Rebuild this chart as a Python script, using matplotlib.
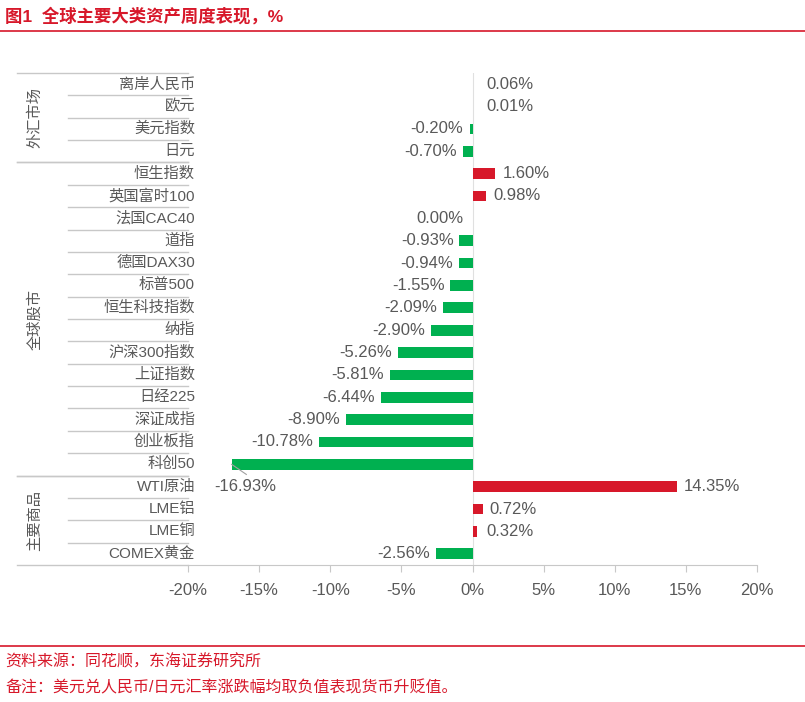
import matplotlib
matplotlib.use("Agg")
import matplotlib.pyplot as plt
from matplotlib.lines import Line2D

plt.rcParams['font.family'] = ['Liberation Sans', 'Noto Sans CJK SC', 'DejaVu Sans']

names = ["离岸人民币", "欧元", "美元指数", "日元", "恒生指数", "英国富时100", "法国CAC40", "道指",
         "德国DAX30", "标普500", "恒生科技指数", "纳指", "沪深300指数", "上证指数", "日经225",
         "深证成指", "创业板指", "科创50", "WTI原油", "LME铝", "LME铜", "COMEX黄金"]
values = [0.06, 0.01, -0.20, -0.70, 1.60, 0.98, 0.00, -0.93, -0.94, -1.55, -2.09, -2.90,
          -5.26, -5.81, -6.44, -8.90, -10.78, -16.93, 14.35, 0.72, 0.32, -2.56]
groups = [("外汇市场", 0, 4), ("全球股市", 4, 18), ("主要商品", 18, 22)]
xticks = [-20, -15, -10, -5, 0, 5, 10, 15, 20]

W, H = 805, 702
fig = plt.figure(figsize=(W/100, H/100), dpi=100)
RED = "#d7182a"; GREEN = "#00b050"; GRAY = "#595959"; LG = "#c8c8c8"

L, R, T, B = 188, 757, 73, 565
ax = fig.add_axes([L/W, 1-B/H, (R-L)/W, (B-T)/H])
n = len(names)
ys = list(range(n))
cols = [RED if v > 0 else GREEN for v in values]
ax.barh(ys, values, height=0.48, color=cols)
ax.set_ylim(n-0.5, -0.5)
ax.set_xlim(-20, 20)
ax.set_yticks([])
ax.set_xticks(xticks)
ax.set_xticklabels([f"{t}%" for t in xticks], fontsize=12, color=GRAY)
ax.tick_params(axis='x', length=5, color=LG, pad=8)
for s in ["top", "right", "left"]:
    ax.spines[s].set_visible(False)
ax.spines["bottom"].set_color(LG)
ax.axvline(0, color="#e0e0e0", lw=0.8, zorder=0)

for i, v in enumerate(values):
    if names[i] == "科创50":
        ax.text(-16.0, i+1, f"{v:.2f}%", ha="center", va="center", fontsize=12, color=GRAY)
        ax.plot([-16.93, -15.9], [i, i+0.45], color="#a0a0a0", lw=0.8)
    elif v > 0:
        ax.text(max(v, 0.5)+0.5, i, f"{v:.2f}%", ha="left", va="center", fontsize=12, color=GRAY)
    else:
        ax.text(min(v, -0.25)-0.4, i, f"{v:.2f}%", ha="right", va="center", fontsize=12, color=GRAY)

rowh = (B-T)/n
def fy(p): return 1-p/H
for i, nm in enumerate(names):
    yc = T + (i+0.5)*rowh
    fig.text(195/W, fy(yc), nm, ha="right", va="center", fontsize=11, color=GRAY)
for g, a, b in groups:
    ya, yb = T + a*rowh, T + b*rowh
    fig.add_artist(Line2D([17/W, L/W], [fy(ya), fy(ya)], color=LG, lw=1))
    fig.add_artist(Line2D([17/W, L/W], [fy(yb), fy(yb)], color=LG, lw=1))
    for k in range(a+1, b):
        yk = T + k*rowh
        fig.add_artist(Line2D([68/W, L/W], [fy(yk), fy(yk)], color=LG, lw=1))
    fig.text(35/W, fy((ya+yb)/2), g, rotation=90, ha="center", va="center", fontsize=11, color=GRAY)

fig.text(5/W, fy(16), "图1  全球主要大类资产周度表现，%", ha="left", va="center", fontsize=12.5,
         color=RED, fontweight="bold")
fig.add_artist(Line2D([0, 1], [fy(31), fy(31)], color=RED, lw=1.2))
fig.add_artist(Line2D([0, 1], [fy(646), fy(646)], color=RED, lw=1.2))
fig.text(5/W, fy(662), "资料来源：同花顺，东海证券研究所", ha="left", va="center", fontsize=11.5, color=RED)
fig.text(5/W, fy(688), "备注：美元兑人民币/日元汇率涨跌幅均取负值表现货币升贬值。", ha="left", va="center", fontsize=11.5, color=RED)

fig.savefig("out.png", dpi=100, facecolor="white")
